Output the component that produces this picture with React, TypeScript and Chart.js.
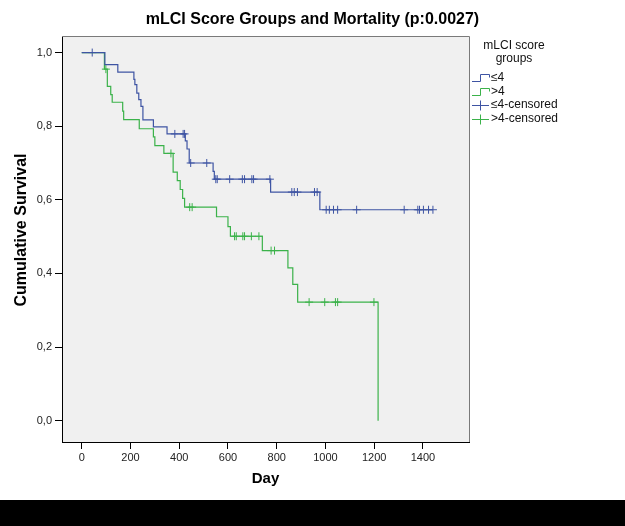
import React, { useEffect, useRef } from 'react';
import { Chart, registerables } from 'chart.js';

Chart.register(...registerables);

const TITLE = 'mLCI Score Groups and Mortality (p:0.0027)';
const X_TITLE = 'Day';
const Y_TITLE = 'Cumulative Survival';
const LEGEND_TITLE = ['mLCI score', 'groups'];
const SERIES_LABELS = ['≤4', '>4'];
const CENSOR_LABELS = ['≤4-censored', '>4-censored'];
const X_TICKS = [0, 200, 400, 600, 800, 1000, 1200, 1400];
const Y_TICKS = [0, 0.2, 0.4, 0.6, 0.8, 1.0];

// Group ≤4: event times and survival after each step
const lowTimes = [0, 95, 148, 214, 218, 226, 234, 243, 251, 294, 350, 425, 432, 441, 539, 544, 775, 977, 1441];
const lowSurv = [1.0, 0.967, 0.947, 0.927, 0.913, 0.89, 0.872, 0.854, 0.817, 0.798, 0.779, 0.76, 0.738, 0.7, 0.677, 0.656, 0.621, 0.573, 0.573];
const lowCensored = [43, 382, 416, 422, 447, 513, 550, 556, 607, 659, 668, 698, 705, 772, 862, 872, 885, 955, 966, 1003, 1016, 1033, 1050, 1128, 1323, 1379, 1386, 1402, 1423, 1441];

// Group >4
const highTimes = [0, 93, 105, 119, 125, 168, 172, 236, 294, 300, 337, 375, 392, 404, 414, 422, 553, 600, 610, 741, 846, 866, 886, 1216];
const highSurv = [1.0, 0.955, 0.908, 0.886, 0.865, 0.841, 0.818, 0.793, 0.771, 0.747, 0.726, 0.675, 0.652, 0.628, 0.604, 0.58, 0.554, 0.527, 0.501, 0.462, 0.415, 0.37, 0.322, 0.0];
const highCensored = [99, 366, 443, 453, 627, 634, 661, 668, 696, 727, 777, 791, 933, 997, 1041, 1050, 1199];

const BLUE = '#3e54a3';
const GREEN = '#3bb24a';
const FONT = "'Liberation Sans', Arial, sans-serif";

function survAt(times: number[], surv: number[], t: number) {
  let v = surv[0];
  for (let i = 0; i < times.length; i++) {
    if (times[i] <= t) v = surv[i];
  }
  return v;
}

const decorPlugin = {
  id: 'decor',
  beforeDraw(chart: any) {
    const { ctx, chartArea: a } = chart;
    ctx.save();
    ctx.fillStyle = '#f0f0f0';
    ctx.fillRect(a.left, a.top, a.right - a.left, a.bottom - a.top);
    ctx.restore();
  },
  afterDraw(chart: any) {
    const { ctx, chartArea: a } = chart;
    ctx.save();
    // top and right frame
    ctx.strokeStyle = '#7a7a7a';
    ctx.lineWidth = 1;
    ctx.beginPath();
    ctx.moveTo(a.left, a.top + 0.5);
    ctx.lineTo(a.right + 0.5, a.top + 0.5);
    ctx.lineTo(a.right + 0.5, a.bottom);
    ctx.stroke();

    // title
    ctx.fillStyle = '#000';
    ctx.font = `bold 16px ${FONT}`;
    ctx.textAlign = 'center';
    ctx.textBaseline = 'middle';
    ctx.fillText(TITLE, 312.5, 20);

    // y axis title
    ctx.save();
    ctx.translate(22, 230);
    ctx.rotate(-Math.PI / 2);
    ctx.font = `bold 16px ${FONT}`;
    ctx.fillText(Y_TITLE, 0, 0);
    ctx.restore();

    // legend
    ctx.font = `12px ${FONT}`;
    ctx.fillStyle = '#111';
    ctx.fillText(LEGEND_TITLE[0], 514, 46);
    ctx.fillText(LEGEND_TITLE[1], 514, 59);
    ctx.textAlign = 'left';
    const rows = [78, 91.5, 105, 119];
    const cols = [BLUE, GREEN];
    for (let i = 0; i < 2; i++) {
      const y = Math.round(rows[i]) + 0.5;
      ctx.strokeStyle = cols[i];
      ctx.beginPath();
      ctx.moveTo(472, y + 3);
      ctx.lineTo(480.5, y + 3);
      ctx.lineTo(480.5, y - 4);
      ctx.lineTo(489.5, y - 4);
      ctx.lineTo(489.5, y - 1);
      ctx.stroke();
      ctx.fillText(SERIES_LABELS[i], 491, rows[i]);
    }
    for (let i = 0; i < 2; i++) {
      const y = Math.round(rows[i + 2]) + 0.5;
      ctx.strokeStyle = cols[i];
      ctx.beginPath();
      ctx.moveTo(472, y);
      ctx.lineTo(489, y);
      ctx.moveTo(480.5, y - 5);
      ctx.lineTo(480.5, y + 5);
      ctx.stroke();
      ctx.fillText(CENSOR_LABELS[i], 491, rows[i + 2]);
    }
    ctx.restore();
  },
};

export default function App() {
  const ref = useRef<HTMLCanvasElement>(null);

  useEffect(() => {
    document.body.style.margin = '0';
    const lowLine = lowTimes.map((t, i) => ({ x: t, y: lowSurv[i] }));
    const highLine = highTimes.map((t, i) => ({ x: t, y: highSurv[i] }));
    const lowCens = lowCensored.map((t) => ({ x: t, y: survAt(lowTimes, lowSurv, t) }));
    const highCens = highCensored.map((t) => ({ x: t, y: survAt(highTimes, highSurv, t) }));

    const chart = new Chart(ref.current!, {
      type: 'line',
      data: {
        datasets: [
          { label: SERIES_LABELS[0], data: lowLine, borderColor: BLUE, borderWidth: 1.2, stepped: 'before', pointRadius: 0, fill: false },
          { label: SERIES_LABELS[1], data: highLine, borderColor: GREEN, borderWidth: 1.2, stepped: 'before', pointRadius: 0, fill: false },
          { type: 'scatter', label: CENSOR_LABELS[0], data: lowCens, borderColor: BLUE, backgroundColor: BLUE, pointStyle: 'cross', pointRadius: 4, borderWidth: 1, showLine: false } as any,
          { type: 'scatter', label: CENSOR_LABELS[1], data: highCens, borderColor: GREEN, backgroundColor: GREEN, pointStyle: 'cross', pointRadius: 4, borderWidth: 1, showLine: false } as any,
        ],
      },
      options: {
        animation: false,
        responsive: false,
        maintainAspectRatio: false,
        layout: { padding: { left: 0, top: 36, right: 156, bottom: 0 } },
        plugins: { legend: { display: false }, title: { display: false }, tooltip: { enabled: false } },
        scales: {
          x: {
            type: 'linear',
            min: -81,
            max: 1589,
            afterBuildTicks: (s: any) => { s.ticks = X_TICKS.map((v) => ({ value: v })); },
            afterFit: (s: any) => { s.height = 58; },
            grid: { display: true, drawOnChartArea: false, drawTicks: true, tickLength: 7, color: '#000' },
            border: { display: true, color: '#000' },
            ticks: { color: '#222', font: { family: FONT, size: 11 }, padding: 2, maxRotation: 0, callback: (v: any) => String(v) },
            title: { display: true, text: X_TITLE, color: '#000', font: { family: FONT, size: 15, weight: 'bold' }, padding: { top: 4, bottom: 12 } },
          },
          y: {
            type: 'linear',
            min: -0.058,
            max: 1.045,
            afterBuildTicks: (s: any) => { s.ticks = Y_TICKS.map((v) => ({ value: v })); },
            afterFit: (s: any) => { s.width = 62; },
            grid: { display: true, drawOnChartArea: false, drawTicks: true, tickLength: 7, color: '#000' },
            border: { display: true, color: '#000' },
            ticks: { color: '#222', font: { family: FONT, size: 11 }, padding: 3, callback: (v: any) => Number(v).toFixed(1).replace('.', ',') },
            title: { display: false },
          },
        },
      },
      plugins: [decorPlugin],
    } as any);
    return () => chart.destroy();
  }, []);

  return (
    <div style={{ width: 625, height: 526, background: '#fff' }}>
      <canvas ref={ref} width={625} height={500} style={{ display: 'block' }} />
      <div style={{ width: 625, height: 26, background: '#000' }} />
    </div>
  );
}
